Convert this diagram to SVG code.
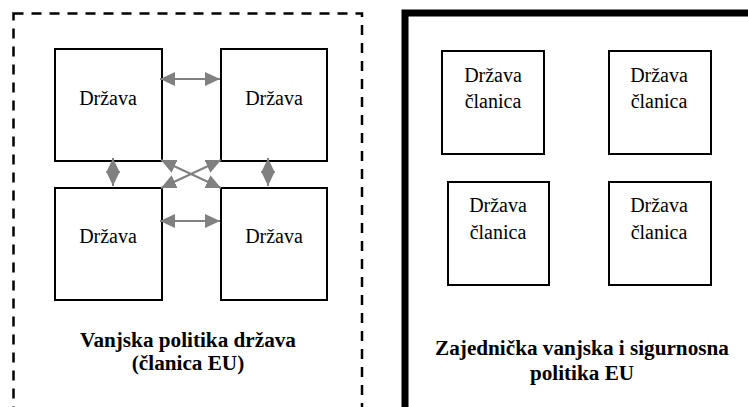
<svg xmlns="http://www.w3.org/2000/svg" width="748" height="407" viewBox="0 0 748 407">
<style>
.box{fill:#fff;stroke:#000;stroke-width:2}
text{font-family:'Liberation Serif','Times New Roman',serif;fill:#000;text-anchor:middle}
.t{font-size:20px}
.b{font-size:21.2px;font-weight:bold}
.c{stroke:#808080;stroke-width:2;fill:none;marker-start:url(#ah);marker-end:url(#ah)}
</style>
<defs>
<marker id="ah" viewBox="0 0 15 14" refX="15" refY="7" markerWidth="15" markerHeight="14" markerUnits="userSpaceOnUse" orient="auto-start-reverse">
<path d="M0,0 L15,7 L0,14 z" fill="#808080"/>
</marker>
</defs>
<rect id="frame-left" x="13.5" y="13.5" width="348.5" height="420" fill="none" stroke="#000" stroke-width="2.5" stroke-dasharray="10 8"/>
<rect id="frame-right" x="405" y="13" width="360" height="420" fill="none" stroke="#000" stroke-width="7"/>
<g id="n1"><rect class="box" x="55" y="49" width="107" height="112"/><text class="t" x="108" y="105">Država</text></g>
<g id="n2"><rect class="box" x="221" y="49" width="106" height="112"/><text class="t" x="274" y="105">Država</text></g>
<g id="n3"><rect class="box" x="55" y="188" width="107" height="112"/><text class="t" x="108" y="243">Država</text></g>
<g id="n4"><rect class="box" x="221" y="188" width="106" height="112"/><text class="t" x="274" y="243">Država</text></g>
<g id="connectors">
<line class="c" x1="160" y1="79" x2="220" y2="79"/>
<line class="c" x1="160" y1="221" x2="220" y2="221"/>
<line class="c" x1="113" y1="158" x2="113" y2="186"/>
<line class="c" x1="268" y1="158" x2="268" y2="186"/>
<line class="c" x1="161" y1="160" x2="221" y2="188"/>
<line class="c" x1="161" y1="188" x2="221" y2="160"/>
</g>
<g id="label-left"><text class="b" x="188" y="347">Vanjska politika država</text><text class="b" x="188" y="370">(članica EU)</text></g>
<g id="m1"><rect class="box" x="442" y="51" width="102" height="103"/><text class="t" x="493" y="82">Država</text><text class="t" x="493" y="108">članica</text></g>
<g id="m2"><rect class="box" x="609" y="51" width="102" height="103"/><text class="t" x="659" y="82">Država</text><text class="t" x="659" y="108">članica</text></g>
<g id="m3"><rect class="box" x="448" y="182" width="101" height="103"/><text class="t" x="498" y="212">Država</text><text class="t" x="498" y="239">članica</text></g>
<g id="m4"><rect class="box" x="609" y="182" width="102" height="103"/><text class="t" x="659" y="212">Država</text><text class="t" x="659" y="239">članica</text></g>
<g id="label-right"><text class="b" x="582" y="355">Zajednička vanjska i sigurnosna</text><text class="b" x="582" y="380">politika EU</text></g>
</svg>
